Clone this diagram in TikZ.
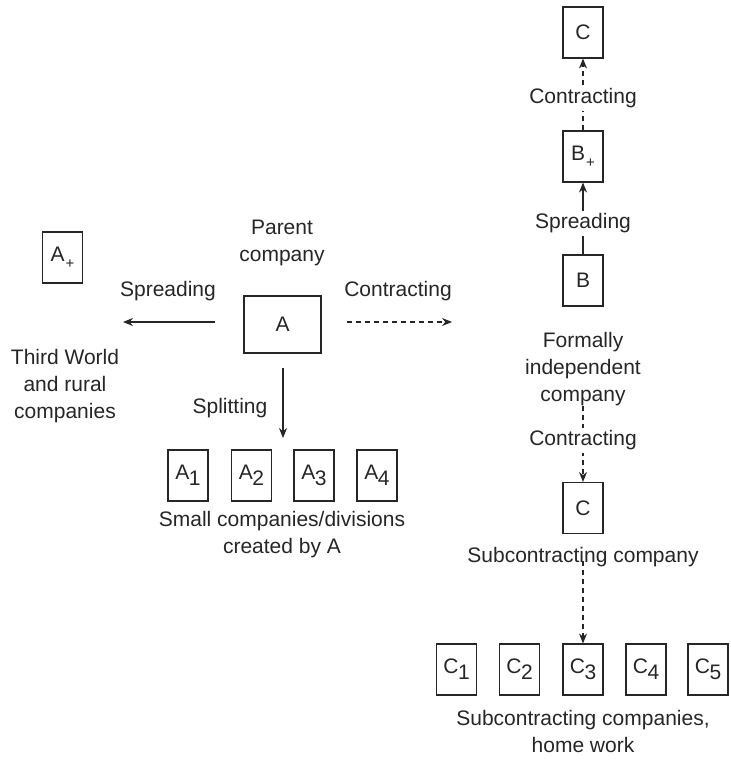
\documentclass[tikz,border=0pt]{standalone}
\usepackage{fontspec}
\setmainfont{Liberation Sans}
\usetikzlibrary{arrows.meta}
\newcommand\subs[1]{\kern-0.5pt\raisebox{-6pt}{#1}}
\newcommand\subplus{\kern1pt\raisebox{-7pt}{\fontsize{15}{15}\selectfont +}}
\begin{document}
\begin{tikzpicture}[x=1pt,y=-1pt,
  every node/.style={font=\fontsize{21}{27}\selectfont, text=black!85},
  box/.style={draw=black!85, line width=1.1pt, minimum width=40pt, minimum height=51pt, inner sep=0pt},
  lbl/.style={align=center, inner sep=0pt},
  conn/.style={draw=black!85, line width=1.1pt, -{Stealth[length=10pt,width=8pt]}},
  dconn/.style={conn, dash pattern=on 5pt off 4pt},
  cut/.style={fill=white, inner sep=3pt}]
\useasboundingbox (0,0) rectangle (730,762);

% left part
\node[box] (Aplus) at (62.5,257.5) {A\subplus};
\node[box, minimum width=77pt, minimum height=57pt] (A) at (282.5,324.5) {A};
\node[lbl] (parent) at (282,243) {Parent\\company};
\node[lbl] (spreadL) at (168,291) {Spreading};
\node[lbl] (contrL) at (398,291) {Contracting};
\node[lbl] (third) at (65,386) {Third World\\and rural\\companies};
\node[lbl] (split) at (230,408) {Splitting};

\coordinate (sStart) at (215,322);
\coordinate (sEnd) at (123,322);
\coordinate (cStart) at (347,322);
\coordinate (cEnd) at (452,322);
\coordinate (pStart) at (283,368);
\coordinate (pEnd) at (283,449);

\draw[conn] (sStart) -- (sEnd);
\draw[dconn] (cStart) -- (cEnd);

\node[box] (A1) at (188,475.5) {A\subs{1}};
\node[box] (A2) at (251.5,475.5) {A\subs{2}};
\node[box] (A3) at (314,475.5) {A\subs{3}};
\node[box] (A4) at (377,475.5) {A\subs{4}};
\draw[conn, shorten >=11pt] (pStart) -- (pEnd);
\node[lbl] (small) at (282,535) {Small companies/divisions\\created by A};

% right column
\node[box] (Ctop) at (583,32.5) {C};
\node[box] (Bplus) at (583,156.5) {B\subplus};
\node[box] (B) at (583,280.5) {B};
\draw[dconn] (Bplus) -- node[cut, pos=0.45] (contrTop) {Contracting} (Ctop);
\draw[conn] (B) -- node[cut, pos=0.43] (spreadR) {Spreading} (Bplus);

\node[lbl] (formal) at (583,369.5) {Formally\\independent\\company};
\node[box] (Cmid) at (583,508) {C};
\draw[dconn] (formal.south) -- node[cut, pos=0.45] (contrMid) {Contracting} (Cmid);
\node[lbl] (subco) at (583,557) {Subcontracting company};

\node[box] (C1) at (456.5,669.5) {C\subs{1}};
\node[box] (C2) at (519.5,669.5) {C\subs{2}};
\node[box] (C3) at (583,669.5) {C\subs{3}};
\node[box] (C4) at (646,669.5) {C\subs{4}};
\node[box] (C5) at (708,669.5) {C\subs{5}};
\draw[dconn] ([yshift=6pt]subco.south) -- (C3);
\node[lbl] (subcos) at (583,731) {Subcontracting companies,\\home work};
\end{tikzpicture}
\end{document}
